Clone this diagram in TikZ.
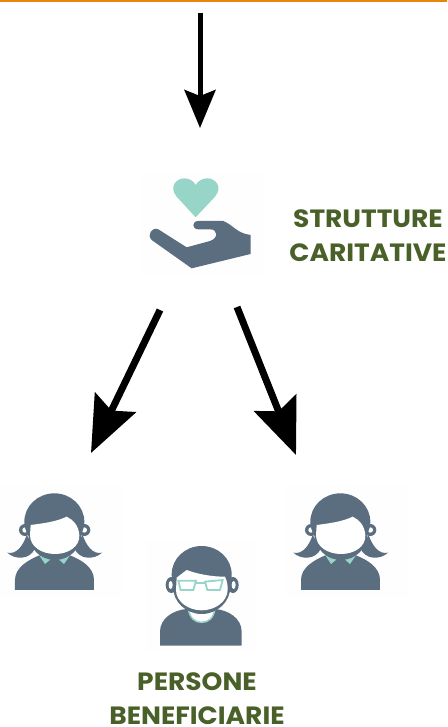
\documentclass[tikz,border=0pt]{standalone}
\usepackage{fontspec}
\setmainfont{Poppins}[FakeStretch=1.06]
\usepackage{tikz}
\usetikzlibrary{arrows.meta, positioning}
\definecolor{slateicon}{HTML}{5B6E80}
\definecolor{tealicon}{HTML}{97D5C9}
\definecolor{olivetext}{HTML}{4A6029}
\definecolor{topline}{HTML}{E8860C}
\definecolor{iconback}{HTML}{FEFEFE}
\tikzstyle{smallarrow} = [line width=5pt,-{Stealth[length=38pt,width=31pt,inset=6pt]}]
\tikzstyle{bigarrow} = [line width=7pt,-{Stealth[length=56pt,width=45pt,inset=9pt]}]
\tikzstyle{iconbox} = [rectangle, fill=iconback, inner sep=0pt]
\tikzstyle{grouplabel} = [text=olivetext, font=\fontsize{25}{34}\selectfont\bfseries, align=center, inner sep=0pt]
\tikzset{
  womanicon/.pic={
    \begin{scope}[x=0.3333pt,y=-0.3333pt]
    % pigtails and ears
    \fill [slateicon] (80,165) .. controls (70,195) and (50,225) .. (22,218) .. controls (45,240) and (90,240) .. (105,205) -- cycle;
    \fill [slateicon] (248,165) .. controls (258,195) and (278,225) .. (306,218) .. controls (283,240) and (238,240) .. (223,205) -- cycle;
    \fill [slateicon] (75,150) circle [radius=18];
    \fill [slateicon] (253,150) circle [radius=18];
    \fill [white] (75,150) circle [radius=8];
    \fill [white] (253,150) circle [radius=8];
    % hair
    \fill [slateicon] (163,125) ellipse [x radius=90, y radius=85];
    % body and collar
    \fill [slateicon] (45,330) -- (45,300) .. controls (45,262) and (85,240) .. (118,226) -- (210,226) .. controls (245,240) and (282,262) .. (282,300) -- (282,330) -- cycle;
    \fill [tealicon] (118,226) -- (152,238) -- (135,252) -- cycle;
    \fill [tealicon] (210,226) -- (176,238) -- (192,252) -- cycle;
    % face
    \fill [slateicon] (165,160) circle [radius=80];
    \fill [white] (92,135) .. controls (130,130) and (170,125) .. (200,110) .. controls (220,120) and (235,135) .. (238,165) .. controls (240,200) and (205,222) .. (165,222) .. controls (125,222) and (90,200) .. (90,165) -- cycle;
    \end{scope}
  },
  manicon/.pic={
    \begin{scope}[x=0.3333pt,y=-0.3333pt]
    % ears
    \fill [slateicon] (94,150) ellipse [x radius=17, y radius=24];
    \fill [slateicon] (279,150) ellipse [x radius=17, y radius=24];
    \fill [white] (92,150) ellipse [x radius=6, y radius=12];
    \fill [white] (281,150) ellipse [x radius=6, y radius=12];
    % body and neck
    \fill [slateicon] (60,332) -- (60,290) .. controls (60,250) and (100,225) .. (140,222) -- (225,222) .. controls (265,225) and (305,250) .. (305,290) -- (305,332) -- cycle;
    \draw [tealicon, line width=1.5pt, fill=white] (145,222) .. controls (150,250) and (165,262) .. (185,262) .. controls (205,262) and (220,250) .. (225,222) -- cycle;
    % hair and face
    \fill [slateicon] (185,118) ellipse [x radius=90, y radius=85];
    \fill [slateicon] (185,155) ellipse [x radius=86, y radius=82];
    \fill [white] (110,128) -- (140,105) .. controls (175,118) and (215,125) .. (255,125) .. controls (262,140) and (263,150) .. (263,165) .. controls (262,200) and (225,226) .. (185,226) .. controls (145,226) and (108,200) .. (108,165) -- cycle;
    % glasses
    \draw [tealicon, line width=1.8pt] (115,137) -- (168,137) -- (160,165) -- (122,165) -- cycle;
    \draw [tealicon, line width=1.8pt] (195,140) -- (248,135) -- (240,165) -- (202,165) -- cycle;
    \draw [tealicon, line width=1.8pt] (168,145) -- (195,145);
    \end{scope}
  },
  handicon/.pic={
    \begin{scope}[x=0.3333pt,y=-0.3333pt]
    % heart
    \fill [tealicon] (197,172) -- (140,110) .. controls (115,80) and (140,55) .. (162,55) .. controls (178,55) and (190,62) .. (197,75) .. controls (204,62) and (218,55) .. (233,55) .. controls (255,55) and (280,80) .. (255,110) -- cycle;
    % hand
    \fill [slateicon] (205,183) -- (280,183) .. controls (310,195) and (320,220) .. (362,225) -- (362,282) -- (185,325) -- (65,240) .. controls (50,225) and (65,200) .. (85,208) -- (170,262) -- (240,243) .. controls (265,235) and (265,208) .. (240,208) -- (205,208) .. controls (185,208) and (185,183) .. (205,183) -- cycle;
    \end{scope}
  }
}
\begin{document}
\begin{tikzpicture}[x=1pt,y=-1pt]
    \useasboundingbox (0,0) rectangle (447,727);
    \fill [topline] (0,0) rectangle (447,2);

    % Icons
    \node (caritas) [iconbox, minimum width=125pt, minimum height=103pt] at (202.5,223.5) {};
    \node (womanleft) [iconbox, minimum width=122pt, minimum height=112pt] at (61,542) {};
    \node (womanright) [iconbox, minimum width=122pt, minimum height=112pt] at (347,542) {};
    \node (man) [iconbox, minimum width=110pt, minimum height=112pt] at (201,596) {};
    \pic at (130,160) {handicon};
    \pic at (0,480) {womanicon};
    \pic at (286,480) {womanicon};
    \pic at (140,535) {manicon};

    % Labels
    \node (strutture) [grouplabel, right=24pt of caritas, yshift=-12pt] {STRUTTURE\\CARITATIVE};
    \node (persone) [grouplabel, below=20pt of man, xshift=-4pt] {PERSONE\\BENEFICIARIE};

    % Arrow ends
    \coordinate (topstart) at (200,13);
    \coordinate (topend) at (200,128);
    \coordinate (leftstart) at (160,310);
    \coordinate (leftend) at (91,453);
    \coordinate (rightstart) at (237,307);
    \coordinate (rightend) at (296,455);

    % Arrows
    \draw [smallarrow] (topstart) -- (topend);
    \draw [bigarrow] (leftstart) -- (leftend);
    \draw [bigarrow] (rightstart) -- (rightend);
\end{tikzpicture}
\end{document}
